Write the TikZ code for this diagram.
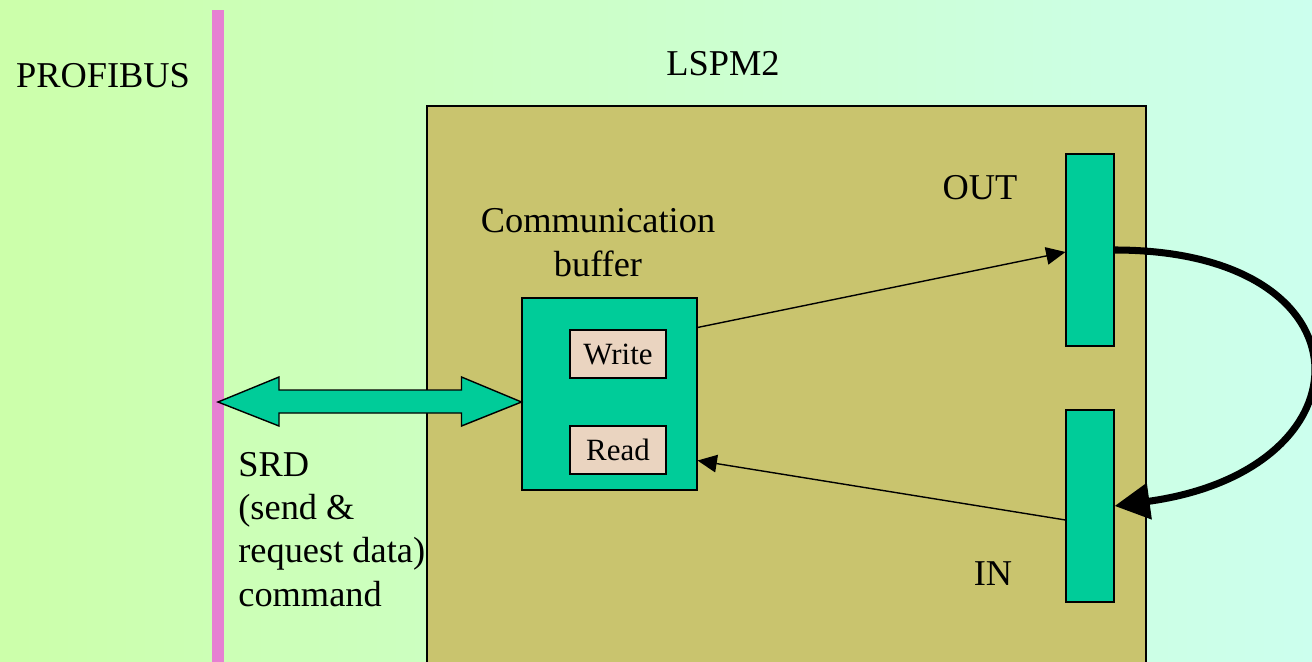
\documentclass[tikz,border=0pt]{standalone}
\usepackage{fontspec}
\setmainfont{Liberation Serif}
\usetikzlibrary{arrows.meta,calc}

\definecolor{bgleft}{RGB}{204,255,170}
\definecolor{bgright}{RGB}{204,255,238}
\definecolor{busPink}{RGB}{230,128,210}
\definecolor{olive}{RGB}{201,196,110}
\definecolor{teal}{RGB}{0,204,153}
\definecolor{buf}{RGB}{234,212,192}

\tikzset{
  bigtext/.style={font=\fontsize{20.7}{24.5}\selectfont},
  smalltext/.style={font=\fontsize{17.6}{21}\selectfont},
  tealbox/.style={draw=black, line width=0.6pt, fill=teal, inner sep=0pt},
  bufbox/.style={draw=black, line width=0.6pt, fill=buf, inner sep=0pt,
    minimum width=1.92cm, minimum height=0.96cm, smalltext},
  thinarrow/.style={line width=0.8pt, -{Triangle[length=11pt,width=10pt]}},
  loopback/.style={line width=4pt, -{Triangle[length=20pt,width=20pt]}}
}

\begin{document}
\begin{tikzpicture}[x=0.02cm, y=-0.02cm]
  \useasboundingbox (0,0) rectangle (1312,662);
  \clip (0,0) rectangle (1312,662);
  % Background
  \shade[left color=bgleft, right color=bgright] (0,0) rectangle (1312,662);
  % PROFIBUS line
  \fill[busPink] (212,10) rectangle (224,680);
  \coordinate (bus) at (218,402);
  \node[bigtext, anchor=base] (profibus) at (103,88) {PROFIBUS};
  % LSPM2 device
  \draw[line width=0.6pt, fill=olive] (427,106) rectangle (1146,700);
  \node[bigtext, anchor=base] (lspm) at (723,76) {LSPM2};
  % Communication buffer
  \node[tealbox, minimum width=3.5cm, minimum height=3.84cm] (comm) at (609.5,394) {};
  \node[bigtext, align=center, anchor=base] (commlabel) at (598,276) {Communication\\buffer};
  \node[bufbox] (write) at (618,354) {Write};
  \node[bufbox] (read) at (618,450) {Read};
  % OUT / IN process images
  \node[tealbox, minimum width=0.96cm, minimum height=3.84cm] (outbar) at (1090,250) {};
  \node[tealbox, minimum width=0.96cm, minimum height=3.84cm] (inbar) at (1090,506) {};
  \node[bigtext, anchor=base] (outlabel) at (980,200) {OUT};
  \node[bigtext, anchor=base] (inlabel) at (993,585) {IN};
  % SRD double arrow
  \coordinate (srdR) at ($(comm.west)+(0,8)$);
  \draw[line width=0.8pt, fill=teal]
    (bus) -- ++(61,-25) -- ++(0,13) -- ($(srdR)+(-60,-12)$) -- ++(0,-13)
    -- (srdR) -- ++(-60,24) -- ++(0,-13) -- ($(bus)+(61,11)$) -- ++(0,13) -- cycle;
  \node[bigtext, align=left, anchor=base west, inner xsep=0pt] (srd) at (238,606)
    {SRD\\(send \&\\request data)\\command};
  % Data flow
  \draw[thinarrow] ($(comm.north east)+(0,30)$) -- ($(outbar.west)+(0,2)$);
  \draw[thinarrow] ($(inbar.west)+(0,14)$) -- ($(comm.south east)+(0,-30)$);
  % Loop back OUT -> IN
  \draw[loopback] (outbar.east) .. controls (1376,250) and (1376,470) .. (inbar.east);
\end{tikzpicture}
\end{document}
